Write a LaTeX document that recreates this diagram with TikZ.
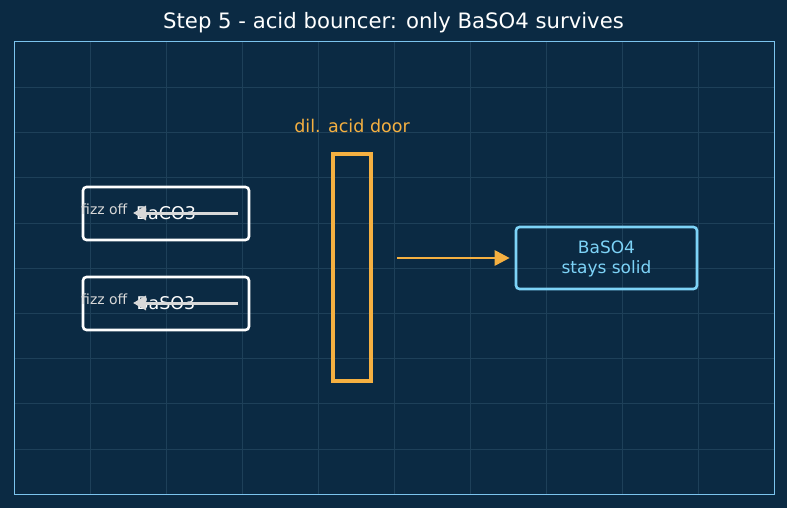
\documentclass[tikz,border=0pt]{standalone}
\usepackage{fontspec}
\setmainfont{DejaVu Sans}
\usetikzlibrary{arrows.meta}
\definecolor{bgc}{HTML}{0B2A43}
\definecolor{gridc}{HTML}{1E4059}
\definecolor{framec}{HTML}{7CC4EE}
\definecolor{orangec}{HTML}{F5B041}
\definecolor{bluec}{HTML}{7DD3F7}
\definecolor{arrowc}{HTML}{D8D8D8}
\tikzset{
  compbox/.style={draw=white, line width=2.6pt, rounded corners=3.5pt, minimum width=166pt, minimum height=53pt, inner sep=0pt},
  complabel/.style={text=white, font=\fontsize{17.5}{20}\selectfont},
  fizzlabel/.style={text=arrowc, font=\fontsize{14}{16}\selectfont, inner sep=0pt},
  fizzarrow/.style={draw=arrowc, line width=3pt, -{Triangle[length=13pt,width=14pt]}},
  doorbox/.style={draw=orangec, line width=3.8pt, minimum width=38pt, minimum height=227pt, inner sep=0pt},
  resbox/.style={draw=bluec, line width=2.6pt, rounded corners=3.5pt, minimum width=181pt, minimum height=62pt, text=bluec, align=center, font=\fontsize{17}{19.5}\selectfont},
  passarrow/.style={draw=orangec, line width=2.8pt, -{Triangle[length=15pt,width=15pt]}}
}
\begin{document}
\begin{tikzpicture}[x=1pt,y=-1pt]
\fill[bgc] (0,0) rectangle (787,508);
\useasboundingbox (0,0) rectangle (787,508);
\foreach \i in {1,...,9} { \draw[gridc, line width=0.6pt] (14+76*\i,42) -- (14+76*\i,494); }
\foreach \j in {1,...,9} { \draw[gridc, line width=0.6pt] (14,42+45.2*\j) -- (774,42+45.2*\j); }
\draw[framec, line width=1pt] (14,42) rectangle (774,494);
\node[text=white, font=\fontsize{21.2}{24}\selectfont] (title) at (393.5,23) {Step 5 - acid bouncer: only BaSO4 survives};
% BaCO3
\node[compbox] (b1) at (166,213.5) {};
\node[complabel] (t1) at (166,213.5) {BaCO3};
\coordinate (a1s) at (238,213);
\coordinate (a1e) at (133,213);
\draw[fizzarrow] (a1s) -- (a1e);
\node[fizzlabel, anchor=west] (f1) at (81,209) {fizz off};
% BaSO3
\node[compbox] (b2) at (166,303.5) {};
\node[complabel] (t2) at (166,303.5) {BaSO3};
\coordinate (a2s) at (238,303);
\coordinate (a2e) at (133,303);
\draw[fizzarrow] (a2s) -- (a2e);
\node[fizzlabel, anchor=west] (f2) at (81,299) {fizz off};
% door
\node[doorbox] (door) at (352,267.5) {};
\node[text=orangec, font=\fontsize{17.5}{20}\selectfont] (doorlabel) at (352,126) {dil. acid door};
% result
\node[resbox] (res) at (606.5,258) {};
\node[text=bluec, align=center, font=\fontsize{17}{19.5}\selectfont] (restext) at (606.5,259) {BaSO4\\stays solid};
\coordinate (ps) at (397,258);
\draw[passarrow] (ps) -- ([xshift=-5pt]res.west);
\end{tikzpicture}
\end{document}
